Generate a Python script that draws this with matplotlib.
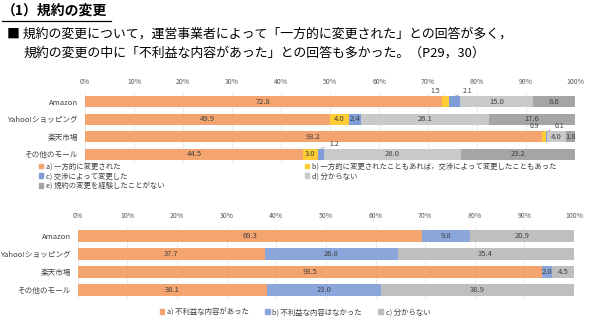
import matplotlib
matplotlib.use('Agg')
import matplotlib.pyplot as plt
from matplotlib.patches import Patch

plt.rcParams['font.family'] = ['Noto Sans CJK JP', 'DejaVu Sans']

# data
malls = ['Amazon', 'Yahoo!ショッピング', '楽天市場', 'その他のモール']

q1_labels = ['a) 一方的に変更された',
             'b) 一方的に変更されたこともあれば，交渉によって変更したこともあった',
             'c) 交渉によって変更した',
             'd) 分からない',
             'e) 規約の変更を経験したことがない']
q1_a = [72.8, 49.9, 93.2, 44.5]
q1_b = [1.5, 4.0, 0.9, 3.0]
q1_c = [2.1, 2.4, 0.1, 1.2]
q1_d = [15.0, 26.1, 4.0, 28.0]
q1_e = [8.6, 17.6, 1.8, 23.2]

q2_labels = ['a) 不利益な内容があった', 'b) 不利益な内容はなかった', 'c) 分からない']
q2_a = [69.3, 37.7, 93.5, 38.1]
q2_b = [9.8, 26.8, 2.0, 23.0]
q2_c = [20.9, 35.4, 4.5, 38.9]

q1_colors = ['#F4A46E', '#FFCC33', '#7F9ED8', '#C9C9C9', '#A5A5A5']
q2_colors = ['#F4A46E', '#8AA6DA', '#BFBFBF']
txt_col = '#404040'

fig = plt.figure(figsize=(5.9, 3.21), dpi=100)

# header text
fig.text(0.003, 0.968, '（1）規約の変更', fontsize=10, fontweight='bold', va='center', ha='left')
fig.add_artist(plt.Line2D([0.003, 0.188], [0.935, 0.935], color='black', lw=0.9))
fig.text(0.012, 0.895, '■ 規約の変更について，運営事業者によって「一方的に変更された」との回答が多く，',
         fontsize=9.3, va='center', ha='left')
fig.text(0.04, 0.835, '規約の変更の中に「不利益な内容があった」との回答も多かった。（P29，30）',
         fontsize=9.3, va='center', ha='left')


def setup(ax):
    ax.set_xlim(0, 100)
    ax.set_ylim(3.5, -0.5)
    ax.set_yticks(range(len(malls)))
    ax.set_yticklabels(malls, fontsize=5.5, color=txt_col)
    ax.set_xticks(range(0, 101, 10))
    ax.set_xticklabels([f'{t}%' for t in range(0, 101, 10)], fontsize=5, color='#595959')
    ax.xaxis.tick_top()
    ax.tick_params(length=0, pad=5)
    for s in ax.spines.values():
        s.set_visible(False)
    ax.grid(axis='x', color='#E3E3E3', lw=0.5)
    ax.set_axisbelow(True)


# chart 1
ax1 = fig.add_axes([0.144, 0.492, 0.831, 0.218])
setup(ax1)
series1 = [q1_a, q1_b, q1_c, q1_d, q1_e]
left = [0.0] * len(malls)
for k, vals in enumerate(series1):
    ax1.barh(range(len(malls)), vals, left=left, height=0.62, color=q1_colors[k], label=q1_labels[k])
    for i, v in enumerate(vals):
        cx = left[i] + v / 2
        if k in (1, 2) and v < 2.3:
            # small segments: label above with a leader line
            dx = -10 if k == 1 else 13
            ax1.annotate(f'{v:.1f}', xy=(cx, i - 0.31), xytext=(dx, 5), textcoords='offset pixels',
                         fontsize=5, color=txt_col, ha='center', va='center',
                         arrowprops=dict(arrowstyle='-', color='#A0A0A0', lw=0.5, shrinkA=1, shrinkB=0))
        else:
            ax1.text(cx, i, f'{v:.1f}', fontsize=5.5, color=txt_col, ha='center', va='center')
        left[i] += v

h1 = [Patch(color=c) for c in q1_colors]
fig.legend([h1[0], h1[2], h1[4]], [q1_labels[0], q1_labels[2], q1_labels[4]],
           loc='upper left', bbox_to_anchor=(0.06, 0.505), frameon=False, fontsize=5.3,
           handlelength=0.6, handleheight=0.6, handletextpad=0.4, labelspacing=0.25,
           borderpad=0, labelcolor=txt_col)
fig.legend([h1[1], h1[3]], [q1_labels[1], q1_labels[3]],
           loc='upper left', bbox_to_anchor=(0.51, 0.505), frameon=False, fontsize=5.3,
           handlelength=0.6, handleheight=0.6, handletextpad=0.4, labelspacing=0.25,
           borderpad=0, labelcolor=txt_col)

# chart 2
ax2 = fig.add_axes([0.132, 0.068, 0.841, 0.225])
setup(ax2)
series2 = [q2_a, q2_b, q2_c]
left = [0.0] * len(malls)
for k, vals in enumerate(series2):
    ax2.barh(range(len(malls)), vals, left=left, height=0.65, color=q2_colors[k], label=q2_labels[k])
    for i, v in enumerate(vals):
        ax2.text(left[i] + v / 2, i, f'{v:.1f}', fontsize=5.5, color=txt_col, ha='center', va='center')
        left[i] += v

fig.legend([Patch(color=c) for c in q2_colors], q2_labels, loc='center', ncol=3,
           bbox_to_anchor=(0.5, 0.027), frameon=False, fontsize=5.3, handlelength=0.6,
           handleheight=0.6, handletextpad=0.4, columnspacing=2.2, borderpad=0, labelcolor=txt_col)

fig.savefig('out.png', dpi=100)
